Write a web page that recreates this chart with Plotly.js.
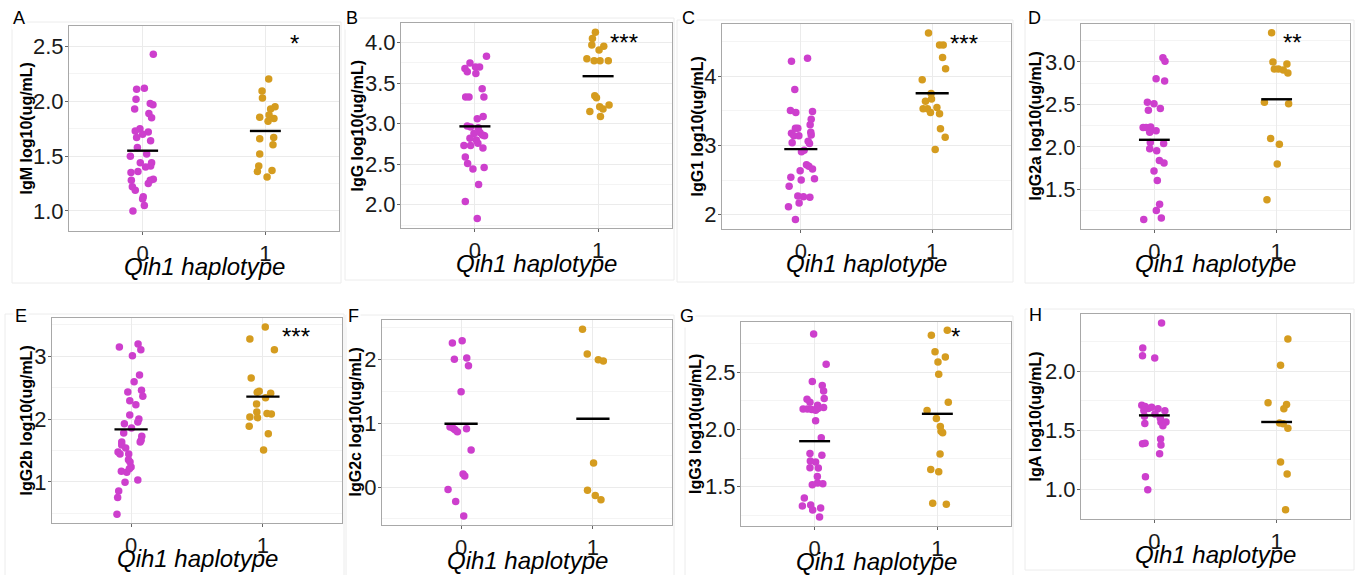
<!DOCTYPE html>
<html><head><meta charset="utf-8">
<script src="https://cdn.plot.ly/plotly-3.0.1.min.js"></script>
<style>html,body{margin:0;padding:0;background:#fff;} #chart{width:1356px;height:575px;}</style>
</head><body><div id="chart"></div>
<script>
// ---------------- DATA ----------------
const categories = [0, 1];
const categoryLabels = ['0', '1'];
const xTitle = 'Qih1 haplotype';
const panelLetters = ['A','B','C','D','E','F','G','H'];
const yTitles = ['IgM log10(ug/mL)','IgG log10(ug/mL)','IgG1 log10(ug/mL)','IgG2a log10(ug/mL)',
                 'IgG2b log10(ug/mL)','IgG2c log10(ug/mL)','IgG3 log10(ug/mL)','IgA log10(ug/mL)'];

// A: IgM
const A_h0 = [2.43,2.11,2.12,2.02,1.98,1.97,1.93,1.89,1.85,1.75,1.73,1.72,1.70,1.67,1.64,1.58,1.50,1.52,1.44,1.41,1.40,1.44,1.36,1.35,1.28,1.29,1.28,1.25,1.22,1.19,1.13,1.11,1.05,1.00];
const A_h0_jit = [0.087,-0.049,0.014,-0.054,0.062,0.084,-0.065,0.051,0.073,-0.022,-0.060,0.046,0,-0.049,0.065,-0.043,-0.100,0.033,0.073,0.065,0.024,-0.019,-0.038,-0.095,0.062,0.087,-0.092,0.046,-0.084,-0.060,0.005,0,0.014,-0.079];
const A_h1 = [2.205,2.095,2.03,1.95,1.93,1.876,1.855,1.843,1.818,1.66,1.67,1.605,1.52,1.41,1.36,1.37,1.31];
const A_h1_jit = [0.027,-0.027,-0.024,0.079,0.043,0.030,-0.046,0.070,0.022,-0.046,0.068,0.062,-0.046,-0.054,-0.065,0.054,0.014];
const A_mean = [1.55, 1.73];
const A_star = {text:'*', x:1.24, y:2.576};

// B: IgG
const B_h0 = [3.832,3.75,3.68,3.64,3.70,3.70,3.62,3.43,3.33,3.33,3.33,3.09,3.06,2.97,2.96,2.95,2.89,2.88,2.86,2.85,2.82,2.80,2.76,2.73,2.73,2.70,2.59,2.51,2.44,2.46,2.25,2.04,1.83];
const B_h0_jit = [0.094,-0.040,-0.081,-0.062,0.005,0.038,0.008,0.059,-0.075,-0.048,0.073,0.067,0.019,-0.062,-0.035,0.027,0.040,-0.008,0.062,0.078,-0.040,0.011,0.024,-0.089,-0.035,0.065,-0.078,-0.059,-0.016,0.075,0.030,-0.078,0.019];
const B_h1 = [4.127,4.05,3.97,3.955,3.91,3.80,3.775,3.775,3.775,3.344,3.32,3.23,3.21,3.18,3.15,3.09];
const B_h1_jit = [-0.022,-0.046,-0.051,0.046,0.008,-0.091,-0.032,0.016,0.083,-0.027,-0.013,0.089,0.013,0.040,-0.067,0.019];
const B_mean = [2.967, 3.586];
const B_star = {text:'***', x:1.21, y:4.06};

// C: IgG1
const C_h0 = [4.216,4.26,3.81,3.505,3.476,3.49,3.38,3.30,3.25,3.25,3.178,3.19,3.14,3.15,3.14,3.06,3.03,3.04,2.91,2.93,2.72,2.70,2.66,2.635,2.54,2.52,2.50,2.41,2.27,2.26,2.25,2.17,2.115,1.93];
const C_h0_jit = [-0.071,0.051,-0.046,-0.079,-0.038,0.089,0.079,0.071,-0.041,-0.023,-0.071,0.076,-0.015,0.079,-0.053,0.056,0.066,-0.066,0.005,0.025,0.043,0.061,0.089,-0.005,-0.076,0.104,0.003,-0.089,-0.023,0.020,0.069,-0.013,-0.094,-0.041];
const C_h1 = [4.625,4.45,4.45,4.27,4.11,3.95,3.75,3.64,3.67,3.53,3.53,3.55,3.476,3.46,3.24,3.12,2.94];
const C_h1_jit = [-0.028,0.056,0.084,0.079,0.102,-0.076,-0.008,-0.051,-0.005,-0.069,-0.036,0.036,-0.013,0.056,0.063,0.099,0.023];
const C_mean = [2.947, 3.755];
const C_star = {text:'***', x:1.24, y:4.548};

// D: IgG2a
const D_h0 = [3.051,3.008,2.804,2.777,2.526,2.507,2.432,2.452,2.229,2.229,2.236,2.19,2.174,2.04,2.052,1.978,1.954,1.84,1.81,1.716,1.606,1.324,1.253,1.163,1.147];
const D_h0_jit = [0.070,0.087,0.014,0.084,-0.057,-0.003,-0.049,0.049,-0.092,-0.068,-0.030,0.014,-0.038,0.076,-0.033,-0.038,0.019,0.041,0.079,-0.003,0.024,0.043,0.016,0.057,-0.087];
const D_h1 = [3.345,3.0,2.977,2.918,2.918,2.906,2.871,2.526,2.507,2.099,2.033,1.80,1.379];
const D_h1_jit = [-0.041,-0.030,0.084,-0.019,0.014,0.054,0.092,-0.100,0.098,-0.049,0.022,0.005,-0.079];
const D_mean = [2.084, 2.561];
const D_star = {text:'**', x:1.13, y:3.29};

// E: IgG2b
const E_h0 = [3.149,3.196,3.106,3.01,2.703,2.597,2.432,2.459,2.363,2.294,2.231,2.066,1.928,2.003,1.955,1.859,1.78,1.727,1.637,1.663,1.637,1.589,1.541,1.477,1.446,1.446,1.355,1.318,1.239,1.17,1.154,1.21,1.032,0.995,0.857,0.751,0.485];
const E_h0_jit = [-0.089,0.053,0.074,0.010,0.064,0.023,-0.025,0.079,0.089,-0.010,0.036,-0.010,-0.051,0.059,0.051,0.003,-0.056,0.081,0.069,0.076,-0.071,-0.071,-0.041,-0.099,-0.084,-0.018,-0.020,-0.008,0,-0.074,-0.033,-0.013,0.051,-0.046,-0.094,-0.102,-0.107];
const E_h1 = [3.467,3.276,3.106,2.655,2.443,2.427,2.411,2.342,2.241,2.088,2.082,2.114,2.034,2.024,1.886,1.769,1.509];
const E_h1_jit = [0.018,-0.099,0.087,-0.089,-0.028,-0.043,0.059,0.020,-0.048,0.031,0.064,-0.046,-0.099,-0.041,-0.104,0.041,0.005];
const E_mean = [1.838, 2.358];
const E_star = {text:'***', x:1.25, y:3.398};

// F: IgG2c
const F_h0 = [2.256,2.292,2.0,2.021,1.901,1.493,0.94,0.919,0.898,0.867,0.914,0.58,0.204,0.172,-0.037,-0.225,-0.454];
const F_h0_jit = [-0.066,0.008,-0.051,0.043,0.056,0,-0.084,-0.061,-0.046,-0.028,0.041,0.076,0.015,0.028,-0.099,-0.041,0.020];
const F_h1 = [2.47,2.084,1.995,1.974,0.376,-0.052,-0.131,-0.198];
const F_h1_jit = [-0.079,-0.043,0.041,0.079,0.005,-0.041,0.018,0.061];
const F_mean = [0.992, 1.07];
const F_star = null;

// G: IgG3
const G_h0 = [2.834,2.57,2.419,2.384,2.337,2.265,2.27,2.238,2.212,2.18,2.18,2.174,2.169,2.183,2.192,2.076,1.927,1.791,1.776,1.724,1.715,1.666,1.663,1.59,1.532,1.526,1.517,1.401,1.331,1.34,1.314,1.297,1.235];
const G_h0_jit = [-0.008,0.094,-0.019,0.062,0.073,-0.062,0.078,-0.038,0.024,-0.094,-0.059,-0.024,0.008,0.027,0.073,0.008,0.054,-0.038,0.059,-0.035,0.008,-0.038,0.030,0.022,0.024,0.067,-0.019,-0.084,-0.100,-0.032,0.049,-0.016,0.040];
const G_h1 = [2.823,2.866,2.68,2.634,2.59,2.483,2.238,2.166,2.096,2.026,1.985,1.971,1.785,1.651,1.631,1.355,1.346];
const G_h1_jit = [-0.049,0.081,-0.019,0.065,0.005,0.011,0.089,-0.084,-0.008,0.024,0.030,0.043,0.022,-0.054,0.011,-0.038,0.073];
const G_mean = [1.898, 2.137];
const G_star = {text:'*', x:1.15, y:2.86};

// H: IgA
const H_h0 = [2.41,2.198,2.133,2.113,1.712,1.703,1.686,1.695,1.684,1.669,1.638,1.619,1.667,1.602,1.568,1.571,1.54,1.559,1.427,1.387,1.39,1.376,1.302,1.107,0.997];
const H_h0_jit = [0.059,-0.095,-0.097,0.003,-0.103,-0.076,-0.049,-0.022,0.030,-0.086,0.005,-0.081,0.086,0.049,0.054,0.095,0.070,-0.078,0.051,-0.097,-0.076,0.054,0.043,-0.073,-0.054];
const H_h1 = [2.274,2.051,1.734,1.72,1.684,1.562,1.556,1.517,1.232,1.13,0.828];
const H_h1_jit = [0.092,0.032,-0.070,0.081,0.059,0.024,0.054,0.092,0.032,0.086,0.073];
const H_mean = [1.627, 1.571];
const H_star = null;

// ---------------- LAYOUT / STYLE ----------------
const W = 1356, Hh = 575;
const panels = [
  {h0:A_h0,j0:A_h0_jit,h1:A_h1,j1:A_h1_jit,mean:A_mean,star:A_star, box:[69,339,26,231],  yr:[0.817,2.688], dt:0.5, fmt:'.1f', letter:[19,18],  outer:[12,341,22,283]},
  {h0:B_h0,j0:B_h0_jit,h1:B_h1,j1:B_h1_jit,mean:B_mean,star:B_star, box:[401,672,23,228], yr:[1.713,4.242], dt:0.5, fmt:'.1f', letter:[352,18], outer:[345,674,18,280]},
  {h0:C_h0,j0:C_h0_jit,h1:C_h1,j1:C_h1_jit,mean:C_mean,star:C_star, box:[722,1011,24,229],yr:[1.793,4.755], dt:1,   fmt:'d',   letter:[688,18], outer:[677,1013,20,282]},
  {h0:D_h0,j0:D_h0_jit,h1:D_h1,j1:D_h1_jit,mean:D_mean,star:D_star, box:[1081,1350,24,229],yr:[1.034,3.447],dt:0.5, fmt:'.1f', letter:[1034,18],outer:[1025,1354,20,283]},
  {h0:E_h0,j0:E_h0_jit,h1:E_h1,j1:E_h1_jit,mean:E_mean,star:E_star, box:[52,342,318,523], yr:[0.347,3.61], dt:1,    fmt:'d',   letter:[21,316], outer:[5,344,314,580]},
  {h0:F_h0,j0:F_h0_jit,h1:F_h1,j1:F_h1_jit,mean:F_mean,star:F_star, box:[382,672,320,525],yr:[-0.595,2.616],dt:1,   fmt:'d',   letter:[353,316],outer:[346,674,315,580]},
  {h0:G_h0,j0:G_h0_jit,h1:G_h1,j1:G_h1_jit,mean:G_mean,star:G_star, box:[741,1011,322,526],yr:[1.157,2.939],dt:0.5, fmt:'.1f', letter:[687,316],outer:[685,1013,316,580]},
  {h0:H_h0,j0:H_h0_jit,h1:H_h1,j1:H_h1_jit,mean:H_mean,star:H_star, box:[1081,1350,314,519],yr:[0.749,2.486],dt:0.5, fmt:'.1f', letter:[1035,315],outer:[1025,1354,309,570]}
];
const yTitleX = [26,357,697,1035,26,355,695,1035];

const colors = ['#CD3FCD', '#D59C1F'];
const FONT = 'Liberation Sans, Arial, sans-serif';
const meanHalfWidth = 0.126;

const px = v => v / W;
const py = v => 1 - v / Hh;

const traces = [];
const layout = {
  width: W, height: Hh,
  margin: {l:0, r:0, t:0, b:0},
  paper_bgcolor: '#ffffff', plot_bgcolor: '#ffffff',
  showlegend: false,
  font: {family: FONT, color: '#1a1a1a'},
  annotations: [], shapes: []
};

panels.forEach((p, i) => {
  const n = i + 1;
  const xa = n === 1 ? 'x' : 'x' + n;
  const ya = n === 1 ? 'y' : 'y' + n;
  const xk = n === 1 ? 'xaxis' : 'xaxis' + n;
  const yk = n === 1 ? 'yaxis' : 'yaxis' + n;
  const groups = [[p.h0, p.j0], [p.h1, p.j1]];
  groups.forEach((g, gi) => {
    traces.push({
      type: 'scatter', mode: 'markers', xaxis: xa, yaxis: ya,
      x: g[1].map(j => categories[gi] + j), y: g[0],
      marker: {color: colors[gi], size: 7.5, line: {width: 0}},
      hoverinfo: 'y'
    });
  });
  // mean lines
  const mx = [], my = [];
  categories.forEach((c, ci) => {
    mx.push(c - meanHalfWidth, c + meanHalfWidth, null);
    my.push(p.mean[ci], p.mean[ci], null);
  });
  traces.push({type:'scatter', mode:'lines', xaxis:xa, yaxis:ya, x:mx, y:my,
               line:{color:'#000000', width:2.4}, hoverinfo:'skip'});

  const [l, r, t, b] = p.box;
  layout[xk] = {
    domain: [px(l), px(r)], anchor: ya, range: [-0.6, 1.6],
    tickvals: categories, ticktext: categoryLabels,
    showgrid: true, gridcolor: '#EBEBEB', gridwidth: 1, zeroline: false,
    showline: true, linecolor: '#A8A8A8', linewidth: 1, mirror: true,
    ticks: 'outside', ticklen: 3, tickcolor: '#666', tickwidth: 1,
    tickfont: {family: FONT, size: 22, color: '#1a1a1a'}, fixedrange: true
  };
  layout[yk] = {
    domain: [py(b), py(t)], anchor: xa, range: p.yr,
    dtick: p.dt, tick0: 0, tickformat: p.fmt,
    showgrid: true, gridcolor: '#EBEBEB', gridwidth: 1, zeroline: false,
    minor: {showgrid: true, gridcolor: '#F4F4F4', gridwidth: 1, dtick: p.dt / 2, tick0: 0},
    showline: true, linecolor: '#A8A8A8', linewidth: 1, mirror: true,
    ticks: 'outside', ticklen: 3, tickcolor: '#666', tickwidth: 1,
    ticklabelstandoff: -3,
    tickfont: {family: FONT, size: 22, color: '#1a1a1a'}, fixedrange: true
  };
  // outer light frame
  const [ol, or, ot, ob] = p.outer;
  layout.shapes.push({type:'rect', xref:'paper', yref:'paper', x0:px(ol), x1:px(or), y0:py(ob), y1:py(ot),
                      line:{color:'#ECECEC', width:1}, fillcolor:'rgba(0,0,0,0)', layer:'below'});
  // panel letter
  layout.annotations.push({text: panelLetters[i], xref:'paper', yref:'paper', x:px(p.letter[0]), y:py(p.letter[1]),
    xanchor:'center', yanchor:'middle', showarrow:false, font:{family:FONT, size:18, color:'#000'}, bgcolor:'#ffffff'});
  // y title
  layout.annotations.push({text: '<b>' + yTitles[i] + '</b>', xref:'paper', yref:'paper', x:px(yTitleX[i]), y:py((t + b) / 2),
    xanchor:'center', yanchor:'middle', textangle:-90, showarrow:false, font:{family:FONT, size:16, color:'#000'}});
  // x title
  layout.annotations.push({text: '<i>' + xTitle + '</i>', xref:'paper', yref:'paper', x:px((l + r) / 2), y:py(b + 35),
    xanchor:'center', yanchor:'middle', showarrow:false, font:{family:FONT, size:24, color:'#000'}});
  // significance stars
  if (p.star) {
    layout.annotations.push({text: p.star.text, xref: xa, yref: ya, x: p.star.x, y: p.star.y,
      xanchor:'center', yanchor:'middle', yshift:-5, showarrow:false, font:{family:FONT, size:24, color:'#000'}});
  }
});

Plotly.newPlot('chart', traces, layout, {staticPlot: true, displayModeBar: false});
</script></body></html>
